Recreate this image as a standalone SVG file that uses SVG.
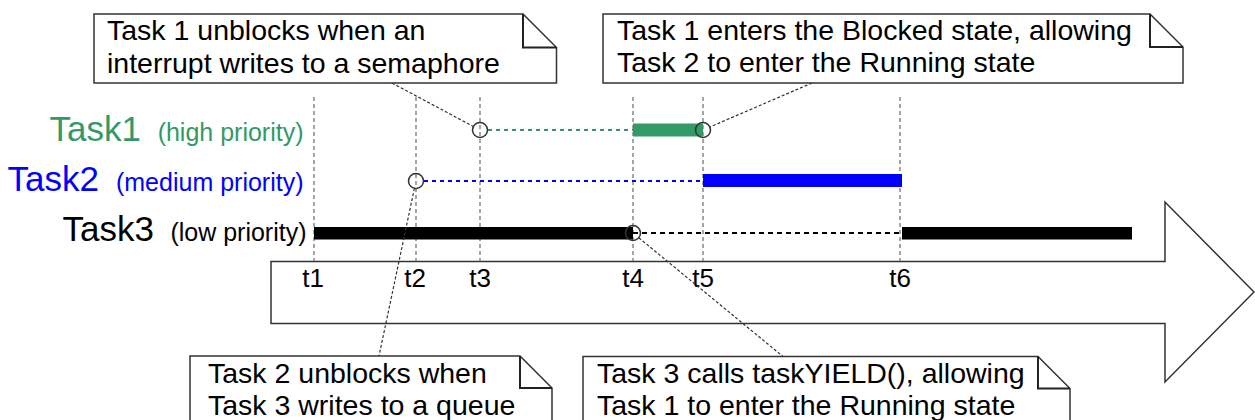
<svg xmlns="http://www.w3.org/2000/svg" width="1255" height="420" viewBox="0 0 1255 420">
<style>
text{font-family:"Liberation Sans",Arial,sans-serif}
.note{fill:#fff;stroke:#333;stroke-width:1.5}
.fold{fill:none;stroke:#222;stroke-width:2}
.nt{font-size:28.5px;fill:#000}
.tick{stroke:#888;stroke-width:1.5;stroke-dasharray:4 3}
.tl{font-size:26px;fill:#000;text-anchor:middle}
.conn{stroke:#333;stroke-width:1.2;stroke-dasharray:3 2;fill:none}
.ev{fill:none;stroke:#333;stroke-width:1.5}
</style>
<rect width="1255" height="420" fill="#fff"/>
<g id="time-arrow">
<polygon points="271,261.5 1165,261.5 1165,202 1254,292 1165,382 1165,323.5 271,323.5" fill="#fff" stroke="#333" stroke-width="1.5"/>
</g>
<g id="ticks">
<line class="tick" x1="314" y1="97" x2="314" y2="261"/>
<line class="tick" x1="416" y1="97" x2="416" y2="261"/>
<line class="tick" x1="480" y1="97" x2="480" y2="261"/>
<line class="tick" x1="633" y1="97" x2="633" y2="261"/>
<line class="tick" x1="703" y1="97" x2="703" y2="261"/>
<line class="tick" x1="900" y1="97" x2="900" y2="261"/>
<text class="tl" x="313" y="287">t1</text>
<text class="tl" x="415" y="287">t2</text>
<text class="tl" x="480" y="287">t3</text>
<text class="tl" x="633" y="287">t4</text>
<text class="tl" x="703" y="287">t5</text>
<text class="tl" x="900" y="287">t6</text>
</g>
<g id="task1">
<text x="49.5" y="141" font-size="35" fill="#339966">Task1</text>
<text x="303.5" y="141" font-size="25" fill="#339966" text-anchor="end">(high priority)</text>
<line x1="488" y1="130" x2="633" y2="130" stroke="#339966" stroke-width="2" stroke-dasharray="4 4"/>
<rect x="633" y="123.5" width="70" height="13" fill="#339966"/>
</g>
<g id="task2">
<text x="7.5" y="191" font-size="35" fill="#0000ff">Task2</text>
<text x="303.5" y="191" font-size="25" fill="#0000ff" text-anchor="end">(medium priority)</text>
<line x1="424" y1="181" x2="703" y2="181" stroke="#0000ff" stroke-width="2" stroke-dasharray="4 4"/>
<rect x="703" y="174" width="199" height="13" fill="#0000ff"/>
</g>
<g id="task3">
<text x="62.5" y="241" font-size="35" fill="#000">Task3</text>
<text x="306.5" y="241" font-size="25" fill="#000" text-anchor="end">(low priority)</text>
<line x1="633" y1="233" x2="902" y2="233" stroke="#000" stroke-width="2" stroke-dasharray="5 4"/>
<rect x="314" y="227" width="319" height="12.5" fill="#000"/>
<rect x="902" y="227" width="230" height="12.5" fill="#000"/>
</g>
<g id="events">
<circle class="ev" cx="480" cy="130" r="7.5"/>
<circle class="ev" cx="703" cy="130" r="7.5"/>
<circle class="ev" cx="416" cy="181" r="7.5"/>
<circle class="ev" cx="633" cy="233" r="7.5"/>
</g>
<g id="connectors">
<line class="conn" x1="392" y1="83" x2="473.4" y2="126.5"/>
<line class="conn" x1="812" y1="83" x2="709.9" y2="127"/>
<line class="conn" x1="414.4" y1="188.3" x2="379" y2="356"/>
<line class="conn" x1="638.8" y1="237.8" x2="783" y2="356.5"/>
</g>
<g id="note1">
<path class="note" d="M94,14 H523 L556.5,47.5 V83 H94 Z"/>
<path class="fold" d="M523,14 V47.5 H556.5"/>
<text class="nt" x="107" y="40">Task 1 unblocks when an</text>
<text class="nt" x="107" y="72.5">interrupt writes to a semaphore</text>
</g>
<g id="note2">
<path class="note" d="M603,14 H1150 L1183,47 V83 H603 Z"/>
<path class="fold" d="M1150,14 V47 H1183"/>
<text class="nt" x="617" y="40">Task 1 enters the Blocked state, allowing</text>
<text class="nt" x="617" y="72">Task 2 to enter the Running state</text>
</g>
<g id="note3">
<path class="note" d="M190,356 H520 L552,388 V432 H190 Z"/>
<path class="fold" d="M520,356 V388 H552"/>
<text class="nt" x="208" y="382.5">Task 2 unblocks when</text>
<text class="nt" x="208" y="414.5">Task 3 writes to a queue</text>
</g>
<g id="note4">
<path class="note" d="M583,356.5 H1038 L1070,388.5 V432 H583 Z"/>
<path class="fold" d="M1038,356.5 V388.5 H1070"/>
<text class="nt" x="597" y="382.5">Task 3 calls taskYIELD(), allowing</text>
<text class="nt" x="597" y="414.5">Task 1 to enter the Running state</text>
</g>
</svg>
